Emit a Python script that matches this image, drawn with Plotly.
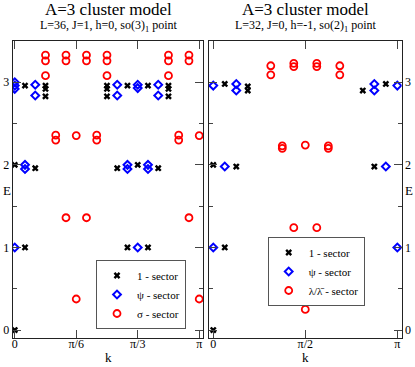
"""Spectra of the A=3 cluster model, two panels side by side."""

import plotly.graph_objects as go

FONT = "Liberation Serif"

# ===== Left panel: L=36, J=1, h=0 (k in units of pi/36) =====
left_one_k = [0, 0, 1, 11, 13, 2, 10, 12, 14, 1, 3, 3, 3, 9, 9, 9, 11, 13, 15, 15, 15]
left_one_e = [0.0, 2.0, 1.0, 1.0, 1.0, 1.96, 1.96, 2.0, 1.96, 2.96, 2.96, 2.92, 2.83,
              2.96, 2.92, 2.83, 2.96, 2.96, 2.96, 2.92, 2.83]

left_psi_k = [0, 12, 1, 1, 11, 11, 13, 13, 0, 0, 0, 2, 2, 10, 10, 12, 12, 14, 14]
left_psi_e = [1.0, 1.0, 2.0, 1.95, 2.0, 1.95, 2.0, 1.95, 3.0, 2.96, 2.92,
              2.97, 2.84, 2.97, 2.84, 2.97, 2.93, 2.97, 2.84]

left_sigma_k = [6, 18, 5, 7, 17, 4, 4, 6, 8, 8, 16, 16, 18, 3, 9, 15,
                3, 3, 5, 5, 7, 7, 9, 9, 15, 15, 17, 17]
left_sigma_e = [0.376, 0.376, 1.36, 1.36, 1.36, 2.36, 2.30, 2.355, 2.36, 2.30, 2.36, 2.30, 2.355,
                3.08, 3.08, 3.08,
                3.33, 3.26, 3.33, 3.26, 3.33, 3.26, 3.33, 3.26, 3.33, 3.26, 3.33, 3.26]

left_tickvals = [0, 6, 12, 18]
left_ticktext = ["0", "π/6", "π/3", "π"]

# ===== Right panel: L=32, J=0, h=-1 (k in units of pi/16) =====
right_one_k = [0, 0, 1, 2, 14, 1, 3, 3, 13, 15]
right_one_e = [0.0, 2.0, 1.0, 1.98, 1.98, 2.98, 2.95, 2.90, 2.90, 2.98]

right_psi_k = [0, 16, 1, 15, 0, 2, 2, 14, 14, 16]
right_psi_e = [1.0, 1.0, 1.98, 1.98, 2.96, 2.98, 2.90, 2.98, 2.90, 2.96]

right_lam_k = [8, 7, 9, 6, 6, 8, 10, 10, 5, 5, 7, 7, 9, 9, 11, 11]
right_lam_e = [0.25, 1.24, 1.24, 2.23, 2.20, 2.24, 2.23, 2.20,
               3.20, 3.09, 3.23, 3.19, 3.23, 3.19, 3.20, 3.09]

right_tickvals = [0, 8, 16]
right_ticktext = ["0", "π/2", "π"]

# ===== Marker styles =====
one_marker = {"symbol": "x", "size": 6, "color": "black", "line": {"width": 0}}
psi_marker = {"symbol": "diamond-open", "size": 6, "color": "#0000ff", "line": {"width": 2}}
red_marker = {"symbol": "circle-open", "size": 7, "color": "#ff0000", "line": {"width": 1.8}}

fig = go.Figure()

fig.add_trace(go.Scatter(x=left_one_k, y=left_one_e, mode="markers", marker=one_marker,
                         name="1 - sector", xaxis="x", yaxis="y", legend="legend"))
fig.add_trace(go.Scatter(x=left_psi_k, y=left_psi_e, mode="markers", marker=psi_marker,
                         name="ψ - sector", xaxis="x", yaxis="y", legend="legend"))
fig.add_trace(go.Scatter(x=left_sigma_k, y=left_sigma_e, mode="markers", marker=red_marker,
                         name="σ - sector", xaxis="x", yaxis="y", legend="legend"))

fig.add_trace(go.Scatter(x=right_one_k, y=right_one_e, mode="markers", marker=one_marker,
                         name="1 - sector", xaxis="x2", yaxis="y2", legend="legend2"))
fig.add_trace(go.Scatter(x=right_psi_k, y=right_psi_e, mode="markers", marker=psi_marker,
                         name="ψ - sector", xaxis="x2", yaxis="y2", legend="legend2"))
fig.add_trace(go.Scatter(x=right_lam_k, y=right_lam_e, mode="markers", marker=red_marker,
                         name="λ/λ\u0304 - sector", xaxis="x2", yaxis="y2", legend="legend2"))

W, H = 415, 367


def px(x):
    return x / W


def py(y):
    return 1 - y / H


y_dom = [py(338.3), py(41)]

axis_common = dict(
    showline=True, linecolor="#222", linewidth=1, mirror="allticks",
    ticks="inside", ticklen=8, tickcolor="#444", tickwidth=1,
    showgrid=False, zeroline=False, automargin=False,
    tickfont={"family": FONT, "size": 12, "color": "black"},
)
x_common = dict(axis_common, ticklabelstandoff=-6)
y_common = dict(
    axis_common, range=[-0.1, 3.5], tick0=0, dtick=1, domain=y_dom,
    minor={"dtick": 0.5, "ticks": "inside", "ticklen": 4, "tickcolor": "#444"},
)

legend_common = dict(
    xanchor="left", yanchor="middle", bgcolor="white", bordercolor="#555", borderwidth=1,
    font={"family": FONT, "size": 11}, itemwidth=30, tracegroupgap=0,
)

fig.update_layout(
    width=W, height=H, autosize=False,
    margin={"l": 0, "r": 0, "t": 0, "b": 0},
    paper_bgcolor="white", plot_bgcolor="white",
    font={"family": FONT, "color": "black"},
    xaxis=dict(x_common, domain=[px(12.7), px(203)], range=[-0.2, 18.37],
               tickvals=left_tickvals, ticktext=left_ticktext, anchor="y"),
    yaxis=dict(y_common, anchor="x", side="left"),
    xaxis2=dict(x_common, domain=[px(209), px(401.7)], range=[-0.37, 16.38],
                tickvals=right_tickvals, ticktext=right_ticktext, anchor="y2"),
    yaxis2=dict(y_common, anchor="x2", side="right"),
    legend=dict(legend_common, x=px(96), y=py(294.5)),
    legend2=dict(legend_common, x=px(267.7), y=py(271.5)),
    showlegend=True,
)

# titles and axis labels
for cx, sub in [(108, "L=36, J=1, h=0, so(3)<sub>1</sub> point"),
                (305, "L=32, J=0, h=-1, so(2)<sub>1</sub> point")]:
    fig.add_annotation(text="A=3 cluster model", x=px(cx), y=py(10),
                       xref="paper", yref="paper", xanchor="center", yanchor="middle",
                       showarrow=False, font={"family": FONT, "size": 17})
    fig.add_annotation(text=sub, x=px(cx), y=py(26),
                       xref="paper", yref="paper", xanchor="center", yanchor="middle",
                       showarrow=False, font={"family": FONT, "size": 12})
    fig.add_annotation(text="k", x=px(cx), y=py(357),
                       xref="paper", yref="paper", xanchor="center", yanchor="middle",
                       showarrow=False, font={"family": FONT, "size": 13})

for ex in [7, 409]:
    fig.add_annotation(text="E", x=px(ex), y=py(190),
                       xref="paper", yref="paper", xanchor="center", yanchor="middle",
                       showarrow=False, font={"family": FONT, "size": 13})

# drop the page's default body margin so the 415x367 figure fills the window
fig.write_html("out.html", config={"displayModeBar": False},
               post_script="document.body.style.margin = '0';")
